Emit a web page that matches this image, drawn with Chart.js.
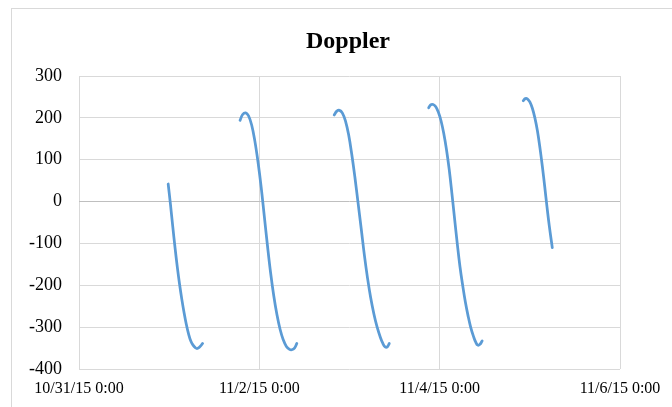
<!DOCTYPE html>
<html>
<head>
<meta charset="utf-8">
<script src="https://cdn.jsdelivr.net/npm/chart.js@4/dist/chart.umd.min.js"></script>
<style>
  html, body { margin: 0; padding: 0; background: #ffffff; }
  #wrap { position: relative; width: 672px; height: 407px; }
</style>
</head>
<body>
<div id="wrap"><canvas id="c" width="672" height="407"></canvas></div>
<script>
// Time in days since 10/31/15 0:00, Doppler values
const pass1Days    = [0.989, 1.015, 1.040, 1.065, 1.090, 1.115, 1.140, 1.165, 1.190, 1.215, 1.240, 1.265, 1.290, 1.311, 1.340, 1.371];
const pass1Doppler = [42, -8, -60, -110, -156, -197, -233, -265, -293, -316, -333, -343, -349, -351, -347, -339];

const pass2Days    = [1.786, 1.815, 1.849, 1.880, 1.915, 1.950, 1.985, 2.020, 2.055, 2.090, 2.125, 2.160, 2.195, 2.230, 2.265, 2.300, 2.335, 2.360, 2.390, 2.416];
const pass2Doppler = [194, 208, 212, 205, 183, 145, 95, 35, -35, -105, -170, -225, -270, -305, -330, -346, -353, -354, -350, -339];

const pass3Days    = [2.830, 2.860, 2.889, 2.920, 2.955, 2.990, 3.025, 3.060, 3.095, 3.130, 3.165, 3.200, 3.235, 3.270, 3.305, 3.340, 3.370, 3.395, 3.420, 3.441];
const pass3Doppler = [207, 216, 218, 212, 193, 160, 113, 58, -3, -65, -128, -183, -230, -268, -299, -323, -339, -347, -347, -339];

const pass4Days    = [3.878, 3.900, 3.927, 3.955, 3.985, 4.015, 4.045, 4.075, 4.105, 4.135, 4.165, 4.195, 4.225, 4.255, 4.285, 4.315, 4.345, 4.375, 4.400, 4.422, 4.447, 4.471];
const pass4Doppler = [224, 231, 232, 227, 214, 193, 163, 125, 78, 21, -40, -100, -155, -200, -240, -273, -301, -322, -336, -343, -341, -333];

const pass5Days    = [4.927, 4.950, 4.975, 5.000, 5.028, 5.056, 5.085, 5.113, 5.140, 5.165, 5.190, 5.215, 5.249];
const pass5Doppler = [241, 246, 245, 238, 223, 200, 168, 127, 82, 36, -12, -57, -110];

const xTickDays   = [0, 2, 4, 6];
const xTickLabels = ['10/31/15 0:00', '11/2/15 0:00', '11/4/15 0:00', '11/6/15 0:00'];
const chartTitle  = 'Doppler';

const passes = [
  [pass1Days, pass1Doppler],
  [pass2Days, pass2Doppler],
  [pass3Days, pass3Doppler],
  [pass4Days, pass4Doppler],
  [pass5Days, pass5Doppler]
];

const datasets = passes.map(([d, v], i) => ({
  label: 'Doppler ' + (i + 1),
  data: d.map((x, k) => ({ x: x, y: v[k] })),
  showLine: true,
  borderColor: '#5B9BD5',
  backgroundColor: '#5B9BD5',
  borderWidth: 2.75,
  pointRadius: 0,
  pointHoverRadius: 0,
  tension: 0.4,
  borderCapStyle: 'round',
  borderJoinStyle: 'round',
  fill: false
}));

const decor = {
  id: 'decor',
  beforeDraw(chart) {
    const ctx = chart.ctx;
    ctx.save();
    ctx.strokeStyle = '#d9d9d9';
    ctx.lineWidth = 1;
    ctx.strokeRect(11.5, 8.5, 1000, 1000);
    ctx.restore();
  },
  afterDraw(chart) {
    const ctx = chart.ctx;
    ctx.save();
    ctx.fillStyle = '#000000';
    ctx.font = 'bold 24px "Liberation Serif", "Times New Roman", serif';
    ctx.textAlign = 'center';
    ctx.textBaseline = 'alphabetic';
    ctx.fillText(chartTitle, 348, 48);
    ctx.restore();
  }
};

new Chart(document.getElementById('c'), {
  type: 'scatter',
  data: { datasets: datasets },
  plugins: [decor],
  options: {
    responsive: false,
    animation: false,
    layout: { padding: { left: 0, right: 52, top: 76, bottom: 0 } },
    plugins: {
      legend: { display: false },
      title: { display: false },
      tooltip: { enabled: false }
    },
    scales: {
      x: {
        type: 'linear',
        min: 0,
        max: 6,
        afterBuildTicks(scale) {
          scale.ticks = xTickDays.map(v => ({ value: v }));
        },
        afterFit(scale) { scale.height = 38; },
        ticks: {
          padding: 10,
          maxRotation: 0,
          autoSkip: false,
          color: '#000000',
          font: { family: '"Liberation Serif", "Times New Roman", serif', size: 16 },
          callback(value) {
            const i = xTickDays.indexOf(value);
            return i >= 0 ? xTickLabels[i] : '';
          }
        },
        grid: { color: '#d9d9d9', lineWidth: 1, drawTicks: false },
        border: { display: false }
      },
      y: {
        min: -400,
        max: 300,
        afterFit(scale) { scale.width = 79; },
        ticks: {
          stepSize: 100,
          padding: 17,
          color: '#000000',
          font: { family: '"Liberation Serif", "Times New Roman", serif', size: 18 }
        },
        grid: {
          color: (c) => (c.tick && c.tick.value === 0 ? '#bfbfbf' : '#d9d9d9'),
          lineWidth: 1,
          drawTicks: false
        },
        border: { display: false }
      }
    }
  }
});
</script>
</body>
</html>
